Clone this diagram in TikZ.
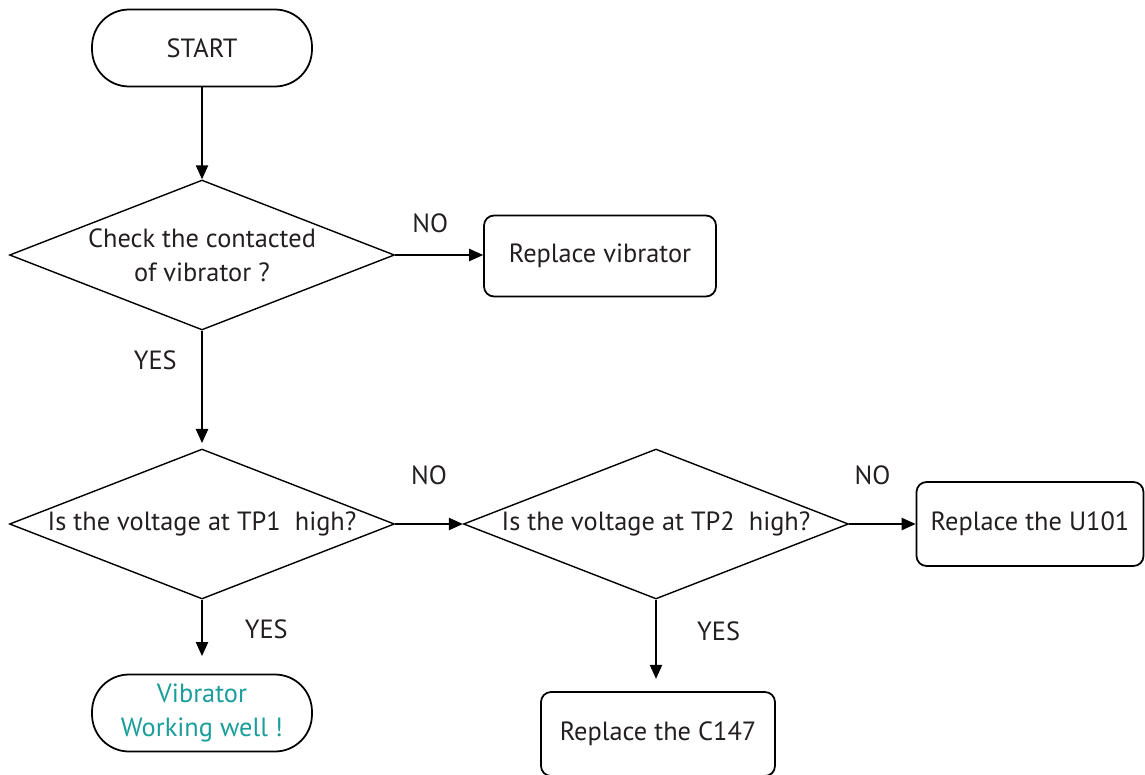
\documentclass[tikz,border=0pt]{standalone}
\usepackage{fontspec}
\setsansfont{PT Sans}
\usetikzlibrary{arrows.meta,positioning,shapes.geometric}
\definecolor{inkgray}{RGB}{35,31,32}
\definecolor{okteal}{RGB}{27,158,155}

\begin{document}
\begin{tikzpicture}[x=0.02cm, y=-0.02cm,
      font=\sffamily\fontsize{15}{19.5}\selectfont, text=inkgray,
      terminal/.style={rectangle, rounded corners=0.74cm, draw=black, line width=1pt,
                       minimum width=4.4cm, minimum height=1.54cm, align=center},
      process/.style={rectangle, rounded corners=0.2cm, draw=black, line width=1pt,
                      minimum width=4.64cm, minimum height=1.62cm, align=center},
      decision/.style={diamond, aspect=2.57, draw=black, line width=0.8pt, inner sep=0pt,
                       minimum width=7.7cm, minimum height=3cm, align=center},
      flow/.style={-{Triangle[length=8pt,width=7pt]}, line width=0.85pt},
      tag/.style={inner sep=0pt}]
    \useasboundingbox (0,0) rectangle (1145,774);

    \node[terminal] (start) at (202,48) {START};
    \node[decision] (chk) at (202,255) {Check the contacted\\of vibrator ?};
    \node[process] (rvib) at (600,256) {Replace vibrator};
    \node[decision] (tp1) at (202,524) {Is the voltage at TP1\ \ high?};
    \node[decision] (tp2) at (656,524) {Is the voltage at TP2\ \ high?};
    \node[process, minimum width=4.54cm, minimum height=1.68cm] (ru101) at (1030,524) {Replace the U101};
    \node[terminal, text=okteal] (ok) at (202,713) {Vibrator\\Working well !};
    \node[process, minimum width=4.68cm, minimum height=1.68cm] (rc147) at (658,734) {Replace the C147};

    \draw[flow] (start) -- (chk);
    \draw[flow] (chk.east) -- (chk.east -| rvib.west) node[tag, pos=0.4, above=12pt] (no1) {NO};
    \draw[flow, shorten >=3pt] (chk.south) -- (tp1.north) node[tag, pos=0.25, left=14pt] (yes1) {YES};
    \draw[flow] (tp1.east) -- (tp2.west) node[tag, pos=0.5, above=22pt] (no2) {NO};
    \draw[flow] (tp2.east) -- (ru101.west) node[tag, pos=0.35, above=22pt] (no3) {NO};
    \draw[flow, shorten >=10pt] (tp1.south) -- (ok.north) node[tag, pos=0.4, right=24pt] (yes2) {YES};
    \draw[flow, shorten >=7pt] (tp2.south) -- (tp2.south |- rc147.north) node[tag, pos=0.35, right=23pt] (yes3) {YES};
  \end{tikzpicture}
\end{document}
